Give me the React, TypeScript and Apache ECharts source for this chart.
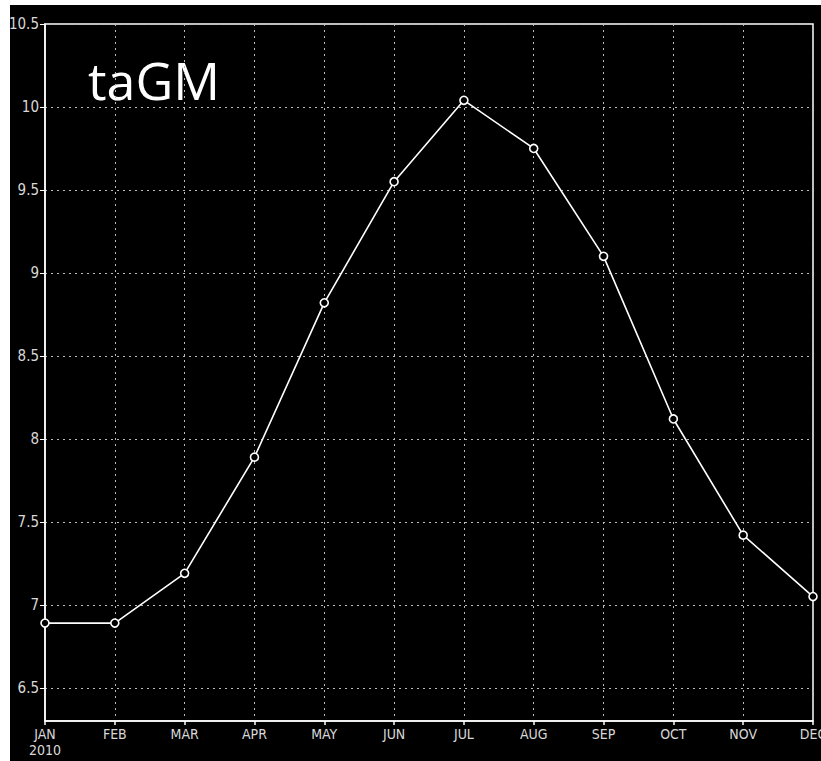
import React, { useEffect, useRef } from "react";
import * as echarts from "echarts";

const months = ["JAN", "FEB", "MAR", "APR", "MAY", "JUN", "JUL", "AUG", "SEP", "OCT", "NOV", "DEC"];
const yearLabel = "2010";
const taGM = [6.89, 6.89, 7.19, 7.89, 8.82, 9.55, 10.04, 9.75, 9.1, 8.12, 7.42, 7.05];
const yTicks = [6.5, 7, 7.5, 8, 8.5, 9, 9.5, 10, 10.5];
const titleText = "taGM";

const labelFont = '"Liberation Sans Narrow", "DejaVu Sans Condensed", sans-serif';

export default function App() {
  const ref = useRef<HTMLDivElement>(null);
  useEffect(() => {
    if (!ref.current) return;
    const chart = echarts.init(ref.current, null, { renderer: "svg" });
    chart.setOption({
      animation: false,
      backgroundColor: "#000000",
      graphic: [
        {
          type: "text",
          left: 78,
          top: 48,
          style: {
            text: titleText,
            fill: "#ffffff",
            font: '52px "Open Sans", "Noto Sans", sans-serif',
          },
        },
      ],
      grid: {
        left: 35,
        top: 19,
        right: 8,
        bottom: 40,
        outerBoundsMode: "none",
        containLabel: false,
        show: true,
        borderColor: "#ffffff",
        borderWidth: 1.5,
        backgroundColor: "transparent",
      },
      xAxis: {
        type: "category",
        data: months,
        boundaryGap: false,
        axisLine: { show: true, lineStyle: { color: "#ffffff", width: 1.5 } },
        axisTick: { show: true, length: 4, alignWithLabel: true, lineStyle: { color: "#ffffff", width: 1.5 } },
        axisLabel: {
          color: "#d8d8d8",
          fontFamily: labelFont,
          fontSize: 14,
          lineHeight: 16,
          margin: 5,
          interval: 0,
          hideOverlap: false,
          formatter: (v: string, i: number) => (i === 0 ? v + "\n" + yearLabel : v),
        },
        splitLine: {
          show: true,
          lineStyle: { color: "#bbbbbb", type: [2, 4], width: 1 },
        },
      },
      yAxis: {
        type: "value",
        min: 6.3,
        max: 10.5,
        axisLine: { show: true, lineStyle: { color: "#ffffff", width: 1.5 } },
        axisTick: { show: true, length: 5, customValues: yTicks, lineStyle: { color: "#ffffff", width: 1 } },
        axisLabel: {
          color: "#d8d8d8",
          fontFamily: labelFont,
          fontSize: 15,
          margin: 6,
          customValues: yTicks,
        },
        splitLine: {
          show: true,
          lineStyle: { color: "#bbbbbb", type: [2, 4], width: 1 },
        },
      },
      series: [
        {
          type: "line",
          data: taGM,
          clip: true,
          symbol: "circle",
          symbolSize: 8,
          showAllSymbol: true,
          lineStyle: { color: "#ffffff", width: 1.6 },
          itemStyle: { color: "#000000", borderColor: "#ffffff", borderWidth: 1.6 },
        },
      ],
    });
    return () => chart.dispose();
  }, []);
  return (
    <div style={{ position: "absolute", left: 0, top: 0, width: 821, height: 761, background: "#ffffff" }}>
      <div ref={ref} style={{ position: "absolute", left: 10, top: 5, width: 811, height: 756 }} />
    </div>
  );
}
